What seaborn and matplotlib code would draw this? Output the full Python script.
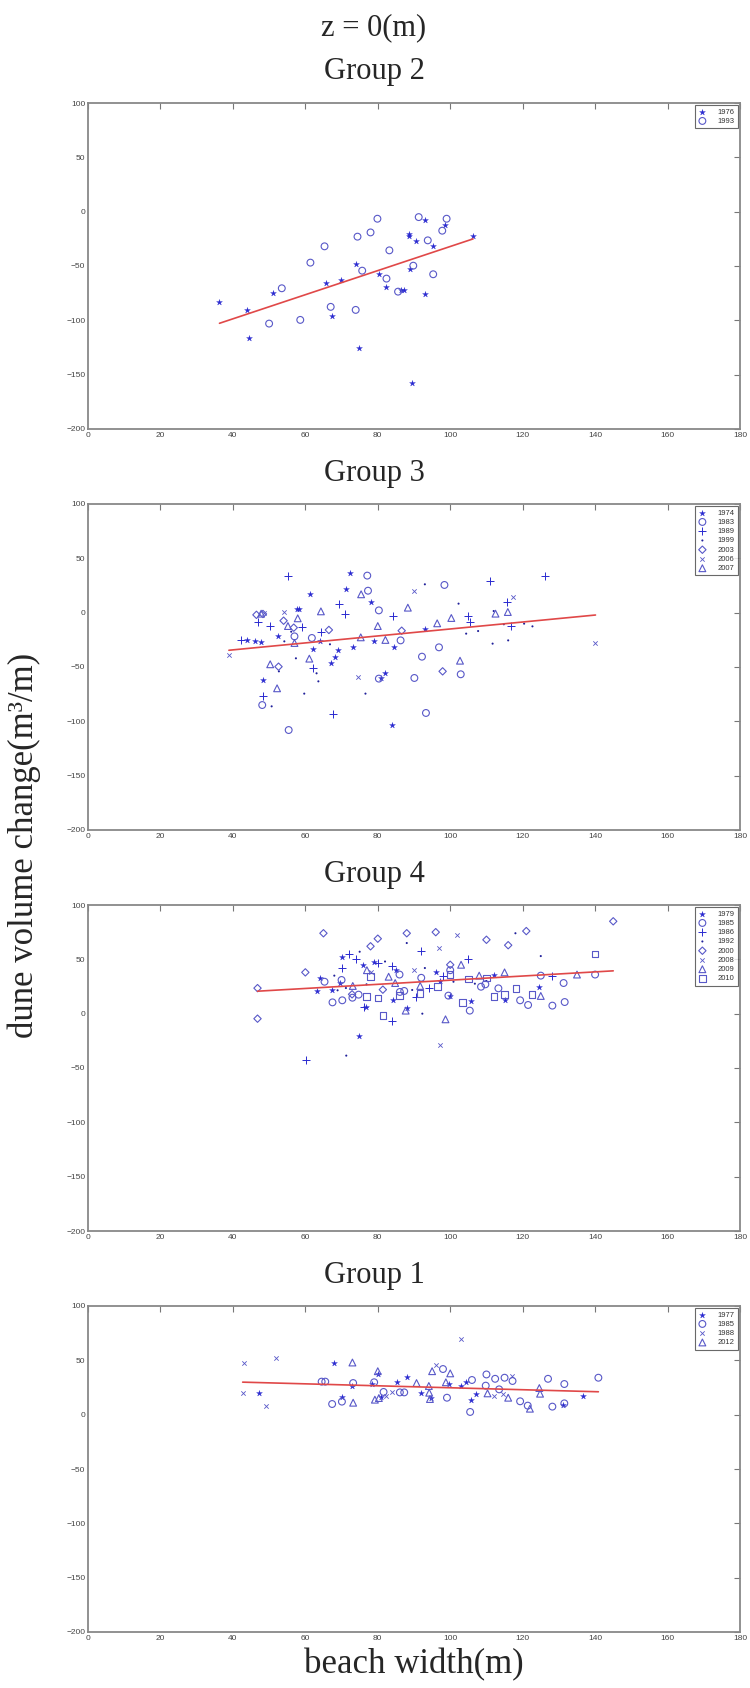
import numpy as np
import matplotlib
matplotlib.use("Agg")
from matplotlib import pyplot as plt
import seaborn as sns

# ---- data: (beach width, dune volume change) ----
# Group 2
g2_1976 = [(36.3, -82.7), (44.0, -90.7), (44.5, -116), (51.2, -74.5), (65.8, -65.8), (67.4, -95.6),
           (69.8, -62.5), (73.9, -48.4), (74.7, -125.6), (80.3, -57), (82.2, -69.6), (86.5, -72.3),
           (87.2, -72), (88.5, -20.9), (88.6, -22.5), (88.9, -52.5), (89.5, -158), (90.5, -26.8),
           (93.1, -7.5), (93.1, -75.8), (95.3, -32), (98.6, -12.2), (106.3, -22.5)]
g2_1993 = [(50.0, -103), (53.5, -70.5), (58.6, -99.6), (61.4, -46.9), (65.3, -31.9), (67.0, -87.6),
           (73.9, -90.4), (74.4, -23), (75.7, -54.3), (78.0, -19.1), (79.9, -6.5), (82.4, -61.6),
           (83.2, -35.6), (85.6, -73.6), (89.8, -49.7), (91.3, -5), (93.8, -26.4), (95.3, -57.6),
           (97.8, -17.5), (99.0, -6.5)]

# Group 3
g3_1974 = [(72.4, 36.2), (61.2, 17.5), (71.2, 22.1), (78.1, 9.5), (57.7, 3.1), (58.3, 3.7), (52.5, -21.5),
           (43.8, -25.1), (46.2, -26.1), (47.8, -26.7), (62.0, -33.1), (64.0, -26.1), (69.0, -34.0),
           (68.2, -40.8), (67.0, -46.0), (73.2, -31.3), (79.0, -25.8), (84.5, -31.3), (48.2, -62),
           (82.1, -55.2), (83.9, -103.4), (93.0, -15.0), (80.9, -60.1)]
g3_1983 = [(77.1, 34.1), (77.3, 20.2), (98.4, 25.5), (80.3, 2.1), (57.0, -21.8), (61.8, -23.3),
           (86.3, -25.5), (48.1, -85), (55.4, -108), (92.2, -40.5), (96.9, -31.9), (102.9, -56.7),
           (90.1, -60.1), (80.3, -60.7), (93.3, -92.3)]
g3_1989 = [(55.3, 33.5), (46.9, -8.3), (50.3, -12.3), (59.0, -13.2), (64.3, -17.5), (69.2, 7.7),
           (70.9, -1.5), (84.3, -3.1), (42.2, -25.5), (48.4, -77), (62.2, -50.9), (67.7, -93.5),
           (111.1, 28.8), (126.3, 34.1), (115.7, 10.1), (104.8, -2.8), (105.5, -8.3), (116.9, -12.3)]
g3_1999 = [(93.0, 26.1), (102.3, 8.3), (112.0, 1.5), (54.2, -26.4), (66.8, -29.1), (57.4, -42),
           (52.7, -54), (63.1, -55.8), (63.6, -63.2), (59.7, -74.5), (50.7, -86.2), (76.6, -74.5),
           (104.4, -19.3), (107.7, -16.9), (111.7, -28.5), (116.0, -25.5), (114.8, -10.7),
           (120.4, -10.1), (122.7, -12.6), (56.1, -17.5)]
g3_2003 = [(54.0, -7.4), (56.8, -13.8), (66.5, -15.9), (86.6, -16.6), (52.6, -49.7), (97.9, -54),
           (46.5, -2.0), (48.3, -1.2)]
g3_2006 = [(38.9, -38.6), (54.2, 0.9), (48.7, 0.0), (90.1, 20.2), (117.4, 14.7), (74.5, -59.2),
           (140.1, -27.9)]
g3_2007 = [(47.8, -0.9), (64.3, 1.2), (57.9, -5.2), (55.2, -12.3), (75.4, 16.9), (88.3, 4.6), (80.0, -12.3),
           (75.3, -22.7), (82.1, -25.1), (57.0, -27.9), (61.1, -42.3), (50.3, -47.5), (52.2, -69.6),
           (96.4, -9.8), (100.3, -4.9), (112.5, -0.9), (115.9, 0.6), (102.7, -44.2)]

# Group 4
g4_1979 = [(74.7, -20.9), (88.0, 5.2), (105.7, 12.0), (115.1, 12.6), (124.6, 24.5), (84.2, 12.6),
           (100.0, 16.0), (63.3, 21.2), (67.4, 21.5), (76.8, 6.4), (69.7, 27.9), (97.2, 30.1),
           (70, 52), (76, 45), (79, 48), (85, 40), (64, 33), (112, 36), (96, 38)]
g4_1985 = [(105.4, 2.8), (119.3, 12.3), (121.5, 8.0), (128.2, 7.4), (131.6, 10.7), (131.3, 28.2),
           (113.3, 23.3), (108.5, 24.8), (109.7, 27.0), (86.1, 20.0), (87.3, 20.9), (99.5, 16.6),
           (74.7, 17.5), (73.0, 14.7), (70.2, 12.3), (67.5, 10.4), (65.3, 29.4),
           (100, 40), (92, 33), (86, 36), (125, 35), (140, 36), (70, 31)]
g4_1986 = [(60.3, -42.6), (83.8, -6.4), (94.1, 23.6), (90.6, 15.0), (76.3, 6.1), (72, 55), (74, 50),
           (80, 47), (84, 44), (92, 58), (105, 50), (70, 42), (98, 35), (128, 35)]
g4_1992 = [(71.3, -38.6), (92.3, 0.0), (89.5, 21.8), (68.9, 21.5), (71.2, 23.6), (106.8, 27.6),
           (76.9, 27.0), (100.9, 29.4), (75, 57), (82, 48), (88, 65), (118, 74), (125, 53), (93, 42),
           (110, 30), (68, 35)]
g4_2000 = [(46.8, -4.6), (46.8, 23.5), (72.9, 17.8), (81.4, 22.1), (65, 74), (78, 62), (80, 69), (88, 74),
           (96, 75), (110, 68), (121, 76), (116, 63), (145, 85), (60, 38), (100, 45)]
g4_2008 = [(97.1, -28.5), (97, 60), (102, 72), (78, 38), (90, 40)]
g4_2009 = [(87.7, 2.8), (98.7, -5.2), (125.0, 16.3), (91.7, 25.5), (73.1, 25.5), (84.8, 28.2),
           (77, 40), (83, 34), (103, 45), (108, 35), (115, 38), (135, 36)]
g4_2010 = [(81.5, -1.5), (103.4, 10.1), (112.1, 16.0), (115.0, 17.5), (122.6, 17.5), (118.2, 23.3),
           (96.5, 24.8), (91.7, 18.7), (86.0, 16.6), (80.1, 14.4), (76.9, 15.6),
           (140, 55), (100, 36), (105, 32), (78, 34), (110, 33)]

# Group 1
g1_1977 = [(47.2, 19.9), (70.2, 15.9), (72.8, 26.7), (78.4, 28.2), (80.8, 16.6), (85.2, 29.8), (91.9, 19.9),
           (94.7, 15.6), (99.7, 28.2), (102.9, 26.1), (104.3, 29.8), (105.7, 13.8), (107.0, 19.3),
           (131.0, 8.6), (136.6, 16.9), (68, 48), (80, 37), (88, 35)]
g1_1985 = [(67.4, 9.8), (70.1, 12.0), (73.2, 29.1), (79.0, 29.8), (81.6, 20.9), (86.1, 20.5), (87.3, 20.5),
           (99.1, 15.6), (106.0, 31.9), (105.5, 2.5), (109.8, 26.7), (113.5, 23.3), (119.3, 12.3),
           (121.4, 8.3), (128.2, 7.4), (131.5, 28.2), (131.5, 10.4), (140.9, 34), (117.2, 31.0),
           (112.4, 33), (64.5, 30.4), (65.5, 30.4), (98, 42), (110, 37), (115, 34), (127, 33)]
g1_1988 = [(42.7, 20.2), (49.2, 8.3), (82.4, 16.9), (83.8, 20.5), (112.1, 17.5), (114.5, 19.0),
           (43, 48), (52, 52), (103, 70), (96, 46), (117, 36)]
g1_2012 = [(73.2, 11.0), (79.2, 13.8), (80.3, 15.3), (90.7, 29.1), (94.1, 26.4), (94.2, 20.2), (94.4, 14.4),
           (98.8, 29.8), (110.3, 19.6), (116.0, 15.6), (122.0, 5.5), (124.6, 24.5), (124.8, 19.3),
           (73, 48), (95, 40), (80, 40), (100, 38)]

group_titles = ["Group 2", "Group 3", "Group 4", "Group 1"]
panels = [
    [("1976", "*", g2_1976), ("1993", "o", g2_1993)],
    [("1974", "*", g3_1974), ("1983", "o", g3_1983), ("1989", "+", g3_1989), ("1999", ".", g3_1999),
     ("2003", "D", g3_2003), ("2006", "x", g3_2006), ("2007", "^", g3_2007)],
    [("1979", "*", g4_1979), ("1985", "o", g4_1985), ("1986", "+", g4_1986), ("1992", ".", g4_1992),
     ("2000", "D", g4_2000), ("2008", "x", g4_2008), ("2009", "^", g4_2009), ("2010", "s", g4_2010)],
    [("1977", "*", g1_1977), ("1985", "o", g1_1985), ("1988", "x", g1_1988), ("2012", "^", g1_2012)],
]

sns.set_style("white")
plt.rcParams['font.family'] = ['Liberation Sans Narrow', 'Liberation Sans', 'DejaVu Sans']

dark = '#2a2ad0'
light = '#5858c8'
mstyle = {
    '*': dict(s=20, color=dark, linewidth=0.2, edgecolor=dark),
    'o': dict(s=24, facecolor='none', edgecolor=light, linewidth=0.8),
    '+': dict(s=26, color=dark, linewidth=0.7),
    '.': dict(s=9, color='#20209a', linewidth=0, edgecolor='none'),
    'D': dict(s=14, facecolor='none', edgecolor=light, linewidth=0.8),
    'x': dict(s=10, color=light, linewidth=0.6),
    '^': dict(s=24, facecolor='none', edgecolor=light, linewidth=0.8),
    's': dict(s=22, facecolor='none', edgecolor=light, linewidth=0.8),
}

fig = plt.figure(figsize=(7.5, 16.88), dpi=100)
serif = ['Liberation Serif', 'DejaVu Serif']

left, width, height = 88 / 750, 652 / 750, 326 / 1688
tops = [103, 504, 905, 1306]

for title, series, top in zip(group_titles, panels, tops):
    ax = fig.add_axes([left, 1 - (top + 326) / 1688, width, height])
    allx, ally = [], []
    for year, mk, pts in series:
        xs = [p[0] for p in pts]
        ys = [p[1] for p in pts]
        allx += xs
        ally += ys
        sns.scatterplot(x=xs, y=ys, marker=mk, label=year, ax=ax, **mstyle[mk])
    # least-squares line over the data range
    sns.regplot(x=np.array(allx), y=np.array(ally), scatter=False, ci=None, truncate=True,
                color='#e04848', line_kws=dict(linewidth=1.2), ax=ax)
    ax.set_xlim(0, 180)
    ax.set_ylim(-200, 100)
    ax.set_xticks(range(0, 181, 20))
    ax.set_yticks(range(-200, 101, 50))
    ax.set_xlabel('')
    ax.set_ylabel('')
    ax.tick_params(direction='in', length=4, width=0.8, color='#777777', top=True, right=True,
                   labelsize=6, labelcolor='#444444', pad=2)
    for sp in ax.spines.values():
        sp.set_color('#888888')
        sp.set_linewidth(1.3)
    leg = ax.legend(loc='upper right', fontsize=5.5, frameon=True, fancybox=False, edgecolor='#444444',
                    handletextpad=1.4, borderpad=0.4, labelspacing=0.25, handlelength=1.2,
                    borderaxespad=0.3)
    leg.get_frame().set_linewidth(0.8)
    for t in leg.get_texts():
        t.set_color('#333333')
    fig.text(374 / 750, 1 - (top - 31) / 1688, title, ha='center', va='center', fontsize=22, family=serif)

fig.text(374 / 750, 1 - 28 / 1688, 'z = 0(m)', ha='center', va='center', fontsize=22, family=serif)
fig.text(414 / 750, 1 - 1665 / 1688, 'beach width(m)', ha='center', va='center', fontsize=25, family=serif)
fig.text(24 / 750, 1 - 845 / 1688, 'dune volume change(m³/m)', ha='center', va='center', rotation=90,
         fontsize=25, family=serif)

fig.savefig('out.png', dpi=100)
